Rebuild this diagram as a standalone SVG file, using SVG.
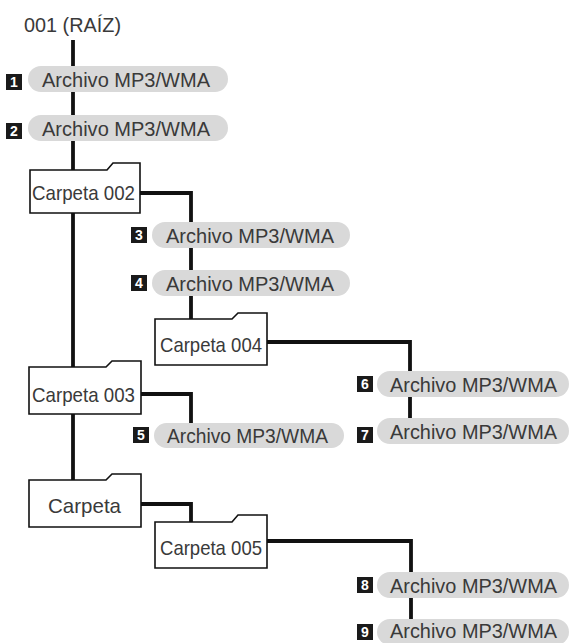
<svg xmlns="http://www.w3.org/2000/svg" width="570" height="643" viewBox="0 0 570 643">
<style>
.line{fill:none;stroke:#111;stroke-width:3.8;stroke-linejoin:miter}
.pill{fill:#d9d9d9}
.pt{font-family:"Liberation Sans",Arial,sans-serif;font-size:21px;fill:#3a3a3a}
.badge{fill:#1a1a1a}
.bt{font-family:"Liberation Sans",Arial,sans-serif;font-size:14px;font-weight:bold;fill:#fff;text-anchor:middle}
.folder{fill:#fff;stroke:#111;stroke-width:1.6}
.ft{font-family:"Liberation Sans",Arial,sans-serif;font-size:21px;fill:#3a3a3a}
</style>
<rect width="570" height="643" fill="#fff"/>
<g id="connectors">
<path class="line" d="M73,40 V480"/>
<path class="line" d="M140,193 H191 V319"/>
<path class="line" d="M267,342 H410 V420"/>
<path class="line" d="M141,394 H191 V423"/>
<path class="line" d="M141,504 H191 V522"/>
<path class="line" d="M267,541 H411 V619"/>
</g>
<g id="root"><text class="pt" x="24" y="32" textLength="97" lengthAdjust="spacingAndGlyphs">001 (RAÍZ)</text></g>
<g id="file1"><rect class="pill" x="28" y="66" width="200" height="26" rx="13"/><rect class="badge" x="6" y="74" width="16" height="16"/><text class="bt" x="14" y="87">1</text><text class="pt" x="42" y="87" textLength="168" lengthAdjust="spacingAndGlyphs">Archivo MP3/WMA</text></g>
<g id="file2"><rect class="pill" x="28" y="115" width="200" height="26" rx="13"/><rect class="badge" x="6" y="123" width="16" height="16"/><text class="bt" x="14" y="136">2</text><text class="pt" x="42" y="136" textLength="168" lengthAdjust="spacingAndGlyphs">Archivo MP3/WMA</text></g>
<g id="folder002"><path class="folder" d="M30,170 H107 L113,163 H140 V213 H30 Z"/><text class="ft" x="32" y="200" textLength="103" lengthAdjust="spacingAndGlyphs">Carpeta 002</text></g>
<g id="file3"><rect class="pill" x="152" y="222" width="198" height="26" rx="13"/><rect class="badge" x="131" y="227" width="16" height="16"/><text class="bt" x="139" y="240">3</text><text class="pt" x="166" y="243" textLength="168" lengthAdjust="spacingAndGlyphs">Archivo MP3/WMA</text></g>
<g id="file4"><rect class="pill" x="152" y="270" width="198" height="26" rx="13"/><rect class="badge" x="131" y="275" width="16" height="16"/><text class="bt" x="139" y="288">4</text><text class="pt" x="166" y="291" textLength="168" lengthAdjust="spacingAndGlyphs">Archivo MP3/WMA</text></g>
<g id="folder004"><path class="folder" d="M155,319 H232 L238,313 H267 V365 H155 Z"/><text class="ft" x="160" y="352" textLength="102" lengthAdjust="spacingAndGlyphs">Carpeta 004</text></g>
<g id="folder003"><path class="folder" d="M29,367 H106 L112,361 H141 V414 H29 Z"/><text class="ft" x="32" y="402" textLength="103" lengthAdjust="spacingAndGlyphs">Carpeta 003</text></g>
<g id="file5"><rect class="pill" x="154" y="423" width="190" height="25" rx="12.5"/><rect class="badge" x="133" y="427" width="16" height="16"/><text class="bt" x="141" y="440">5</text><text class="pt" x="167" y="443" textLength="161" lengthAdjust="spacingAndGlyphs">Archivo MP3/WMA</text></g>
<g id="file6"><rect class="pill" x="377" y="371" width="192" height="26" rx="13"/><rect class="badge" x="357" y="376" width="16" height="16"/><text class="bt" x="365" y="389">6</text><text class="pt" x="390" y="392" textLength="167" lengthAdjust="spacingAndGlyphs">Archivo MP3/WMA</text></g>
<g id="file7"><rect class="pill" x="377" y="418" width="192" height="26" rx="13"/><rect class="badge" x="357" y="427" width="16" height="16"/><text class="bt" x="365" y="440">7</text><text class="pt" x="390" y="439" textLength="167" lengthAdjust="spacingAndGlyphs">Archivo MP3/WMA</text></g>
<g id="folder"><path class="folder" d="M29,480 H106 L112,474 H141 V527 H29 Z"/><text class="ft" x="48" y="513" textLength="73" lengthAdjust="spacingAndGlyphs">Carpeta</text></g>
<g id="folder005"><path class="folder" d="M155,522 H232 L238,515 H267 V568 H155 Z"/><text class="ft" x="160" y="555" textLength="102" lengthAdjust="spacingAndGlyphs">Carpeta 005</text></g>
<g id="file8"><rect class="pill" x="377" y="572" width="192" height="26" rx="13"/><rect class="badge" x="357" y="577" width="16" height="16"/><text class="bt" x="365" y="590">8</text><text class="pt" x="390" y="593" textLength="167" lengthAdjust="spacingAndGlyphs">Archivo MP3/WMA</text></g>
<g id="file9"><rect class="pill" x="377" y="619" width="192" height="26" rx="13"/><rect class="badge" x="357" y="624" width="16" height="16"/><text class="bt" x="365" y="637">9</text><text class="pt" x="390" y="638" textLength="167" lengthAdjust="spacingAndGlyphs">Archivo MP3/WMA</text></g>
</svg>
